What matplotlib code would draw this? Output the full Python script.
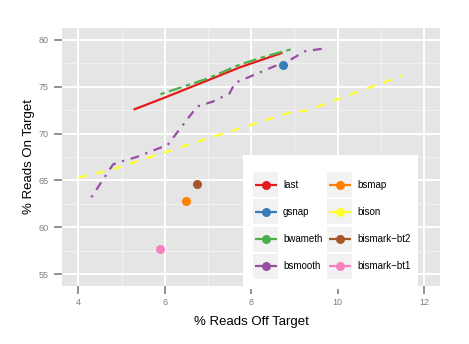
import matplotlib
matplotlib.use("Agg")
import matplotlib.pyplot as plt
from matplotlib.patches import Rectangle
from matplotlib.ticker import MultipleLocator

plt.rcParams['font.family'] = ['Liberation Sans', 'DejaVu Sans']

# data (% off target, % on target)
last_x = [5.3, 6.0, 7.0, 7.75, 8.7]
last_y = [72.6, 73.85, 75.7, 77.1, 78.6]

bwameth_x = [5.9, 7.0, 7.75, 8.3, 9.0]
bwameth_y = [74.2, 75.9, 77.4, 78.2, 79.1]

bsmooth_x = [4.3, 4.8, 4.9, 5.35, 5.9, 6.05, 6.75, 7.1, 7.5, 7.62, 8.95, 9.25, 9.7]
bsmooth_y = [63.2, 66.7, 66.9, 67.5, 68.5, 68.7, 72.9, 73.4, 74.3, 75.4, 78.0, 78.8, 79.1]

bison_x = [4.0, 4.8, 6.8, 9.0, 9.25, 11.5]
bison_y = [65.3, 66.2, 69.2, 72.4, 72.4, 76.2]

gsnap_pt = (8.73, 77.3)
bsmap_pt = (6.49, 62.8)
bt2_pt = (6.75, 64.6)
bt1_pt = (5.89, 57.7)

names = ["last", "gsnap", "bwameth", "bsmooth",
         "bsmap", "bison", "bismark\u2212bt2", "bismark\u2212bt1"]
colors = ["#E41A1C", "#377EB8", "#4DAF4A", "#984EA3",
          "#FF7F00", "#FFFF33", "#A65628", "#F781BF"]

W, H = 469, 344
fig = plt.figure(figsize=(W / 100, H / 100), dpi=100)
ax = fig.add_axes([62 / W, 1 - 286 / H, 378 / W, 258 / H])
ax.set_facecolor("#E5E5E5")
for s in ax.spines.values():
    s.set_visible(False)

ax.xaxis.set_major_locator(MultipleLocator(2))
ax.xaxis.set_minor_locator(MultipleLocator(1))
ax.yaxis.set_major_locator(MultipleLocator(5))
ax.yaxis.set_minor_locator(MultipleLocator(2.5))
ax.grid(which="major", color="white", lw=1.4)
ax.grid(which="minor", color="#F2F2F2", lw=0.7)
ax.set_axisbelow(True)

lw = 1.6
ax.plot(last_x, last_y, color=colors[0], lw=lw)
ax.plot(bwameth_x, bwameth_y, color=colors[2], lw=lw, dashes=(2, 2, 6, 2))
ax.plot(bsmooth_x, bsmooth_y, color=colors[3], lw=lw, dashes=(1, 3, 4, 3))
ax.plot(bison_x, bison_y, color=colors[5], lw=lw, dashes=(4, 4))

ms = 6.5
for pt, c in [(gsnap_pt, colors[1]), (bsmap_pt, colors[4]),
              (bt2_pt, colors[6]), (bt1_pt, colors[7])]:
    ax.plot([pt[0]], [pt[1]], "o", color=c, ms=ms, mec="none")

ax.set_xlim(3.62, 12.37)
ax.set_ylim(53.72, 81.28)
ax.tick_params(which="major", direction="out", length=5.8, width=1.2,
               color="#7F7F7F", labelcolor="#7F7F7F", labelsize=6.5)
ax.tick_params(axis="x", pad=3)
ax.tick_params(axis="y", pad=4)
ax.tick_params(which="minor", length=0)
ax.set_xlabel("% Reads Off Target", fontsize=9.5, labelpad=6)
ax.set_ylabel("% Reads On Target", fontsize=9.5, labelpad=2.5)

# legend box drawn by hand, ggplot style
lx0, ly0, lw_, lh = 243, 155, 175, 134
lax = fig.add_axes([lx0 / W, 1 - (ly0 + lh) / H, lw_ / W, lh / H], zorder=5)
lax.set_xlim(0, lw_)
lax.set_ylim(lh, 0)
lax.set_facecolor("white")
lax.set_xticks([])
lax.set_yticks([])
for s in lax.spines.values():
    s.set_visible(False)

col_x = [10, 84]
row_y = [17, 44.3, 71.6, 98.9]
key = 25
for i, (n, c) in enumerate(zip(names, colors)):
    cx = col_x[i // 4]
    ry = row_y[i % 4]
    lax.add_patch(Rectangle((cx, ry), key, key, facecolor="#F2F2F2", edgecolor="none"))
    lax.plot([cx + 1.5, cx + key - 1.5], [ry + key / 2] * 2, color=c, lw=1.6,
             solid_capstyle="butt")
    lax.plot([cx + key / 2], [ry + key / 2], "o", color=c, ms=ms, mec="none")
    lax.text(cx + key + 5, ry + key / 2, n, va="center", ha="left", fontsize=7)

fig.savefig("out.png", dpi=100)
